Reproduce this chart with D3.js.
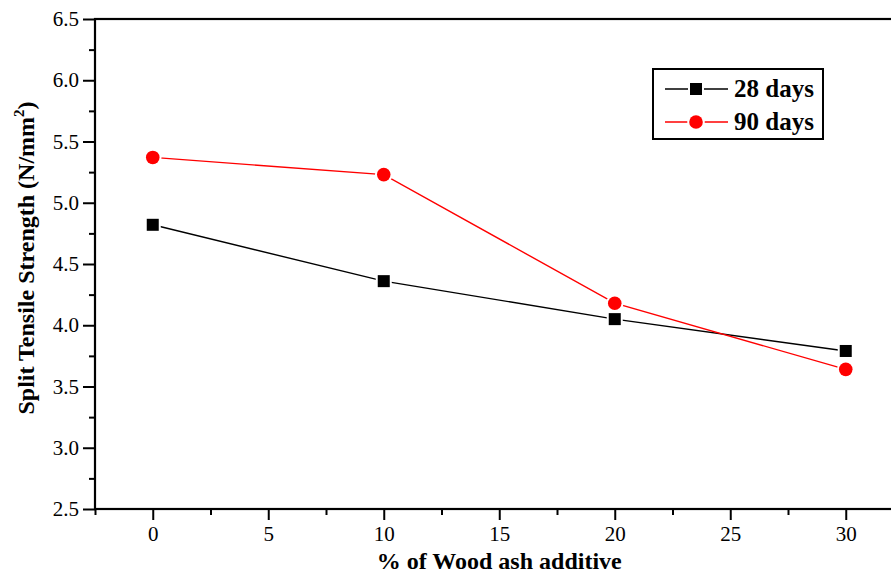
<!DOCTYPE html>
<html>
<head>
<meta charset="utf-8">
<script src="https://cdn.jsdelivr.net/npm/d3@7"></script>
<style>
  body { margin: 0; background: #fff; }
  svg { display: block; font-family: "Liberation Serif", "Times New Roman", serif; }
  svg text { font-family: "Liberation Serif", "Times New Roman", serif !important; }
  .axis text { font-size: 21px; fill: #000; }
</style>
</head>
<body>
<svg id="chart"></svg>
<script>
// data
const additive = [0, 10, 20, 30];
const days28 = [4.82, 4.36, 4.05, 3.79];
const days90 = [5.37, 5.23, 4.18, 3.64];
const xTicks = [0, 5, 10, 15, 20, 25, 30];
const yTicks = [2.5, 3.0, 3.5, 4.0, 4.5, 5.0, 5.5, 6.0, 6.5];

const W = 891, H = 574;
const margin = { top: 19, left: 95, bottom: 65 };
const plotH = H - margin.top - margin.bottom;

const svg = d3.select('#chart').attr('width', W).attr('height', H);

const x = d3.scaleLinear().domain([-2.5, 32.5]).range([margin.left, margin.left + 35 * 23.1]);
const y = d3.scaleLinear().domain([2.5, 6.5]).range([margin.top + plotH, margin.top]);

// minor ticks
const xMinor = d3.range(-2.5, 33, 5);
const yMinor = d3.range(2.75, 6.5, 0.5);

function axisGroup(t) {
  return svg.append('g').attr('class', 'axis').attr('transform', t);
}

// x axis
axisGroup(`translate(0,${y(2.5)})`)
  .call(d3.axisBottom(x).tickValues(xTicks).tickSize(11).tickPadding(6).tickFormat(d3.format('d')));
axisGroup(`translate(0,${y(2.5)})`)
  .call(d3.axisBottom(x).tickValues(xMinor).tickSize(6).tickFormat(''));

// y axis
axisGroup(`translate(${x(-2.5)},0)`)
  .call(d3.axisLeft(y).tickValues(yTicks).tickSize(12).tickPadding(4).tickFormat(d3.format('.1f')));
axisGroup(`translate(${x(-2.5)},0)`)
  .call(d3.axisLeft(y).tickValues(yMinor).tickSize(6).tickFormat(''));

svg.selectAll('.axis').attr('font-family', null).attr('font-size', null);
svg.selectAll('.domain').remove();
svg.selectAll('.tick line').attr('stroke', '#000').attr('stroke-width', 2);

// frame (right side falls outside the picture)
svg.append('rect')
  .attr('x', x(-2.5)).attr('y', y(6.5))
  .attr('width', x(32.5) - x(-2.5)).attr('height', y(2.5) - y(6.5))
  .attr('fill', 'none').attr('stroke', '#000').attr('stroke-width', 2.2);

// axis titles
svg.append('text')
  .attr('x', x(15)).attr('y', 569)
  .attr('text-anchor', 'middle')
  .style('font-size', '24px').style('font-weight', 'bold')
  .text('% of Wood ash additive');

const yt = svg.append('text')
  .attr('transform', `translate(34,${(y(2.5) + y(6.5)) / 2 - 6}) rotate(-90)`)
  .attr('text-anchor', 'middle')
  .style('font-size', '24px').style('font-weight', 'bold');
yt.append('tspan').text('Split Tensile Strength (N/mm');
yt.append('tspan').attr('dy', -10).style('font-size', '15px').text('2');
yt.append('tspan').attr('dy', 10).text(')');

// series
const series = [
  { name: '28 days', values: days28, color: '#000000', shape: 'square' },
  { name: '90 days', values: days90, color: '#ff0000', shape: 'circle' }
];

const line = d3.line().x(d => x(d[0])).y(d => y(d[1]));

series.forEach(s => {
  const pts = additive.map((a, i) => [a, s.values[i]]);
  svg.append('path')
    .datum(pts)
    .attr('d', line)
    .attr('fill', 'none')
    .attr('stroke', s.color)
    .attr('stroke-width', 1.4);
});

function drawMarker(g, shape, cx, cy, color) {
  if (shape === 'square') {
    g.append('rect')
      .attr('x', cx - 6).attr('y', cy - 6).attr('width', 12).attr('height', 12)
      .attr('fill', color).attr('stroke', '#fff').attr('stroke-width', 4)
      .style('paint-order', 'stroke');
  } else {
    g.append('circle')
      .attr('cx', cx).attr('cy', cy).attr('r', 6.8)
      .attr('fill', color).attr('stroke', '#fff').attr('stroke-width', 4)
      .style('paint-order', 'stroke');
  }
}

series.forEach(s => {
  const g = svg.append('g');
  additive.forEach((a, i) => drawMarker(g, s.shape, x(a), y(s.values[i]), s.color));
});

// legend
const legend = svg.append('g');
legend.append('rect')
  .attr('x', 653).attr('y', 69).attr('width', 170).attr('height', 70)
  .attr('fill', '#fff').attr('stroke', '#000').attr('stroke-width', 2);
series.forEach((s, i) => {
  const ly = 89 + i * 33;
  legend.append('line')
    .attr('x1', 665).attr('x2', 728).attr('y1', ly).attr('y2', ly)
    .attr('stroke', s.color).attr('stroke-width', 1.4);
  drawMarker(legend, s.shape, 696, ly, s.color);
  legend.append('text')
    .attr('x', 734).attr('y', ly + 8)
    .style('font-size', '25px').style('font-weight', 'bold')
    .text(s.name);
});
</script>
</body>
</html>
